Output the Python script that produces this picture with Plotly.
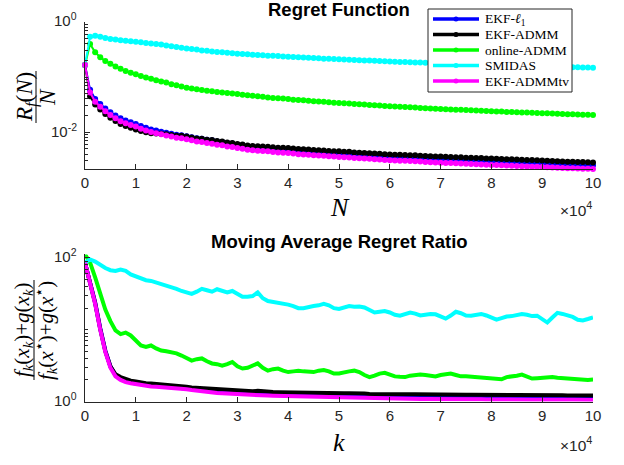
import plotly.graph_objects as go
import math

# ---------------- data ----------------
N = list(range(0, 100001, 1000))          # iteration index (0 ... 1e5)
K = list(range(0, 100001, 1000))

method_names = ["EKF-<i>ℓ</i><sub>1</sub>", "EKF-ADMM", "online-ADMM", "SMIDAS", "EKF-ADMMtv"]
method_colors = ["#0000FF", "#000000", "#00FF00", "#00FFFF", "#FF00FF"]

# Regret function R_f(N)/N
regret_ekf_l1 = [
    0.166, 0.0589, 0.0398, 0.0324, 0.0269, 0.0229, 0.0200, 0.0178, 0.0162, 0.0151,
    0.0141, 0.0129, 0.0120, 0.0112, 0.0107, 0.0102, 0.00977, 0.00933, 0.00891, 0.00875,
    0.00841, 0.00805, 0.00771, 0.00755, 0.00723, 0.00708, 0.00678, 0.00664, 0.00635, 0.00622,
    0.00589, 0.00575, 0.00550, 0.00537, 0.00525, 0.00520, 0.00514, 0.00504, 0.00493, 0.00489,
    0.00481, 0.00471, 0.00461, 0.00456, 0.00451, 0.00442, 0.00437, 0.00432, 0.00422, 0.00417,
    0.00412, 0.00407, 0.00404, 0.00394, 0.00391, 0.00386, 0.00382, 0.00377, 0.00372, 0.00366,
    0.00361, 0.00358, 0.00355, 0.00352, 0.00348, 0.00345, 0.00341, 0.00337, 0.00333, 0.00330,
    0.00327, 0.00324, 0.00321, 0.00318, 0.00316, 0.00313, 0.00310, 0.00307, 0.00304, 0.00301,
    0.00299, 0.00296, 0.00293, 0.00290, 0.00288, 0.00285, 0.00282, 0.00280, 0.00277, 0.00275,
    0.00272, 0.00270, 0.00267, 0.00265, 0.00262, 0.00260, 0.00258, 0.00256, 0.00255, 0.00253,
    0.00251]
regret_ekf_admm = [
    0.166, 0.0447, 0.0316, 0.0257, 0.0214, 0.0182, 0.0159, 0.0141, 0.0129, 0.0120,
    0.0112, 0.0105, 0.00998, 0.00955, 0.00944, 0.00933, 0.00912, 0.00887, 0.00861, 0.00855,
    0.00832, 0.00800, 0.00769, 0.00757, 0.00728, 0.00716, 0.00687, 0.00675, 0.00647, 0.00635,
    0.00610, 0.00598, 0.00573, 0.00562, 0.00551, 0.00547, 0.00542, 0.00532, 0.00521, 0.00518,
    0.00513, 0.00502, 0.00492, 0.00488, 0.00483, 0.00473, 0.00469, 0.00465, 0.00455, 0.00451,
    0.00447, 0.00442, 0.00438, 0.00428, 0.00424, 0.00419, 0.00414, 0.00408, 0.00404, 0.00398,
    0.00394, 0.00390, 0.00387, 0.00384, 0.00381, 0.00378, 0.00374, 0.00370, 0.00366, 0.00362,
    0.00359, 0.00356, 0.00353, 0.00350, 0.00348, 0.00344, 0.00342, 0.00339, 0.00337, 0.00333,
    0.00331, 0.00328, 0.00326, 0.00323, 0.00320, 0.00318, 0.00315, 0.00312, 0.00310, 0.00307,
    0.00304, 0.00301, 0.00299, 0.00296, 0.00294, 0.00291, 0.00290, 0.00288, 0.00286, 0.00284,
    0.00282]
regret_online_admm = [
    0.166, 0.398, 0.282, 0.229, 0.195, 0.174, 0.155, 0.141, 0.129, 0.120,
    0.112, 0.105, 0.0977, 0.0933, 0.0871, 0.0832, 0.0794, 0.0741, 0.0708, 0.0676,
    0.0638, 0.0617, 0.0603, 0.0582, 0.0562, 0.0550, 0.0537, 0.0525, 0.0513, 0.0501,
    0.0490, 0.0479, 0.0468, 0.0457, 0.0447, 0.0437, 0.0427, 0.0417, 0.0412, 0.0407,
    0.0398, 0.0389, 0.0385, 0.0380, 0.0372, 0.0363, 0.0359, 0.0355, 0.0347, 0.0343,
    0.0339, 0.0334, 0.0330, 0.0325, 0.0321, 0.0316, 0.0312, 0.0308, 0.0303, 0.0299,
    0.0295, 0.0292, 0.0288, 0.0285, 0.0282, 0.0279, 0.0275, 0.0272, 0.0269, 0.0266,
    0.0263, 0.0261, 0.0258, 0.0256, 0.0254, 0.0251, 0.0249, 0.0247, 0.0244, 0.0242,
    0.0240, 0.0238, 0.0236, 0.0233, 0.0231, 0.0229, 0.0228, 0.0226, 0.0224, 0.0223,
    0.0221, 0.0219, 0.0218, 0.0216, 0.0214, 0.0212, 0.0211, 0.0209, 0.0207, 0.0206,
    0.0204]
regret_smidas = [
    0.166, 0.537, 0.562, 0.537, 0.513, 0.490, 0.479, 0.468, 0.457, 0.447,
    0.437, 0.427, 0.417, 0.407, 0.398, 0.389, 0.376, 0.363, 0.351, 0.339,
    0.331, 0.324, 0.316, 0.305, 0.299, 0.292, 0.285, 0.281, 0.275, 0.271,
    0.266, 0.263, 0.259, 0.255, 0.251, 0.248, 0.245, 0.243, 0.240, 0.237,
    0.234, 0.232, 0.229, 0.226, 0.224, 0.221, 0.219, 0.216, 0.214, 0.212,
    0.210, 0.208, 0.206, 0.204, 0.202, 0.200, 0.199, 0.197, 0.195, 0.193,
    0.191, 0.190, 0.188, 0.187, 0.186, 0.184, 0.183, 0.182, 0.180, 0.179,
    0.178, 0.177, 0.175, 0.174, 0.173, 0.172, 0.171, 0.169, 0.168, 0.167,
    0.166, 0.165, 0.164, 0.163, 0.161, 0.160, 0.159, 0.158, 0.157, 0.156,
    0.155, 0.154, 0.153, 0.153, 0.152, 0.151, 0.151, 0.150, 0.149, 0.149,
    0.148]
regret_ekf_admmtv = [
    0.166, 0.0525, 0.0355, 0.0288, 0.0240, 0.0204, 0.0178, 0.0158, 0.0145, 0.0135,
    0.0126, 0.0115, 0.0107, 0.0100, 0.00955, 0.00912, 0.00871, 0.00832, 0.00794, 0.00776,
    0.00741, 0.00708, 0.00676, 0.00661, 0.00631, 0.00617, 0.00589, 0.00575, 0.00550, 0.00537,
    0.00513, 0.00501, 0.00479, 0.00468, 0.00457, 0.00452, 0.00447, 0.00437, 0.00427, 0.00422,
    0.00417, 0.00407, 0.00398, 0.00394, 0.00389, 0.00380, 0.00376, 0.00372, 0.00363, 0.00359,
    0.00355, 0.00351, 0.00347, 0.00339, 0.00335, 0.00331, 0.00327, 0.00322, 0.00318, 0.00313,
    0.00309, 0.00306, 0.00303, 0.00301, 0.00298, 0.00295, 0.00292, 0.00288, 0.00285, 0.00282,
    0.00279, 0.00276, 0.00274, 0.00271, 0.00269, 0.00266, 0.00264, 0.00261, 0.00259, 0.00256,
    0.00254, 0.00252, 0.00249, 0.00247, 0.00245, 0.00243, 0.00240, 0.00238, 0.00236, 0.00234,
    0.00232, 0.00230, 0.00228, 0.00225, 0.00223, 0.00221, 0.00220, 0.00218, 0.00217, 0.00215,
    0.00214]

# Moving average regret ratio
ratio_ekf_l1 = [
    86.1, 47.9, 24.0, 10.5, 5.13, 3.09, 2.32, 2.04, 1.905, 1.84,
    1.778, 1.738, 1.690, 1.667, 1.652, 1.633, 1.614, 1.596, 1.578, 1.560,
    1.528, 1.496, 1.466, 1.435, 1.406, 1.390, 1.377, 1.361, 1.349, 1.334,
    1.318, 1.312, 1.303, 1.294, 1.288, 1.276, 1.265, 1.259, 1.253, 1.245,
    1.236, 1.230, 1.225, 1.219, 1.213, 1.202, 1.197, 1.191, 1.189, 1.186,
    1.183, 1.180, 1.175, 1.169, 1.164, 1.159, 1.156, 1.153, 1.153, 1.156,
    1.159, 1.156, 1.151, 1.148, 1.143, 1.138, 1.135, 1.135, 1.138, 1.140,
    1.138, 1.132, 1.127, 1.122, 1.119, 1.122, 1.125, 1.127, 1.125, 1.119,
    1.114, 1.112, 1.114, 1.119, 1.122, 1.119, 1.114, 1.109, 1.107, 1.109,
    1.114, 1.117, 1.114, 1.109, 1.107, 1.104, 1.107, 1.109, 1.107, 1.104,
    1.102]
ratio_ekf_admm = [
    86.1, 46.8, 23.4, 10.2, 5.01, 3.09, 2.40, 2.19, 2.04, 1.95,
    1.905, 1.84, 1.80, 1.778, 1.758, 1.738, 1.718, 1.698, 1.679, 1.641,
    1.603, 1.567, 1.549, 1.514, 1.496, 1.479, 1.462, 1.445, 1.429, 1.413,
    1.396, 1.380, 1.374, 1.387, 1.413, 1.380, 1.365, 1.355, 1.349, 1.343,
    1.334, 1.324, 1.318, 1.312, 1.309, 1.303, 1.306, 1.312, 1.306, 1.297,
    1.294, 1.300, 1.306, 1.312, 1.303, 1.288, 1.274, 1.268, 1.271, 1.276,
    1.271, 1.262, 1.259, 1.256, 1.259, 1.262, 1.256, 1.250, 1.253, 1.256,
    1.250, 1.245, 1.247, 1.250, 1.245, 1.239, 1.242, 1.245, 1.239, 1.233,
    1.230, 1.227, 1.230, 1.236, 1.233, 1.230, 1.233, 1.227, 1.222, 1.225,
    1.230, 1.227, 1.225, 1.222, 1.219, 1.216, 1.219, 1.222, 1.219, 1.216,
    1.213]
ratio_online_admm = [
    112.2, 86.1, 53.7, 31.6, 19.1, 13.2, 9.77, 8.71, 9.12, 8.32,
    6.92, 6.03, 5.75, 6.03, 5.50, 5.13, 5.01, 4.90, 4.68, 4.37,
    3.98, 3.72, 3.89, 3.98, 3.63, 3.39, 3.31, 3.16, 3.31, 3.55,
    3.09, 2.88, 2.95, 3.16, 3.39, 2.95, 2.69, 2.82, 2.88, 2.69,
    2.57, 2.63, 2.69, 2.63, 2.57, 2.57, 2.69, 2.75, 2.63, 2.45,
    2.45, 2.57, 2.63, 2.69, 2.57, 2.34, 2.19, 2.29, 2.45, 2.51,
    2.34, 2.24, 2.21, 2.19, 2.29, 2.34, 2.37, 2.34, 2.29, 2.24,
    2.34, 2.43, 2.45, 2.34, 2.24, 2.24, 2.21, 2.19, 2.16, 2.14,
    2.09, 2.02, 2.04, 2.19, 2.21, 2.29, 2.37, 2.24, 2.09, 2.11,
    2.14, 2.16, 2.19, 2.14, 2.11, 2.09, 2.04, 2.00, 1.97, 2.00,
    2.02]
ratio_smidas = [
    86.1, 95.5, 89.1, 79.4, 72.4, 67.6, 66.1, 69.2, 66.1, 58.9,
    55.0, 51.3, 49.0, 47.9, 45.7, 42.7, 40.7, 38.9, 37.2, 34.7,
    33.1, 31.6, 33.9, 37.2, 35.5, 33.9, 36.7, 34.7, 33.1, 34.7,
    31.6, 28.8, 28.8, 29.5, 33.1, 27.5, 25.1, 24.5, 23.4, 22.9,
    22.4, 21.4, 20.0, 20.0, 20.9, 21.4, 21.9, 22.9, 21.9, 20.0,
    19.5, 20.4, 21.4, 20.9, 21.1, 20.4, 18.6, 17.4, 17.8, 18.2,
    17.4, 16.2, 15.7, 16.6, 17.4, 16.8, 15.8, 16.2, 16.6, 16.4,
    15.5, 14.3, 15.8, 17.8, 17.0, 15.8, 15.7, 16.2, 16.6, 15.8,
    14.8, 13.8, 14.5, 15.3, 15.5, 15.8, 16.6, 16.2, 15.5, 15.7,
    13.8, 12.6, 14.8, 17.2, 16.6, 15.7, 15.1, 13.8, 13.5, 14.1,
    14.8]
ratio_ekf_admmtv = [
    86.1, 45.7, 22.9, 10.0, 4.90, 2.95, 2.24, 2.00, 1.86, 1.80,
    1.74, 1.70, 1.64, 1.62, 1.60, 1.585, 1.567, 1.549, 1.531, 1.514,
    1.479, 1.445, 1.413, 1.380, 1.349, 1.334, 1.318, 1.303, 1.288, 1.274,
    1.259, 1.253, 1.245, 1.236, 1.230, 1.219, 1.208, 1.202, 1.197, 1.189,
    1.180, 1.175, 1.169, 1.164, 1.159, 1.148, 1.143, 1.138, 1.135, 1.132,
    1.130, 1.127, 1.122, 1.117, 1.112, 1.107, 1.104, 1.102, 1.102, 1.104,
    1.107, 1.104, 1.099, 1.096, 1.091, 1.086, 1.084, 1.084, 1.086, 1.089,
    1.086, 1.081, 1.076, 1.072, 1.069, 1.072, 1.074, 1.076, 1.074, 1.069,
    1.064, 1.062, 1.064, 1.069, 1.072, 1.069, 1.064, 1.059, 1.057, 1.059,
    1.064, 1.067, 1.064, 1.059, 1.057, 1.054, 1.057, 1.059, 1.057, 1.054,
    1.052]

x_tick_vals = [0, 10000, 20000, 30000, 40000, 50000, 60000, 70000, 80000, 90000, 100000]
x_tick_text = ["0", "1", "2", "3", "4", "5", "6", "7", "8", "9", "10"]
top_y_tick_vals = [0.01, 1]
top_y_tick_text = ["10<sup>-2</sup>", "10<sup>0</sup>"]
bot_y_tick_vals = [1, 100]
bot_y_tick_text = ["10<sup>0</sup>", "10<sup>2</sup>"]

# ---------------- figure ----------------
W, H = 624, 465
def px(x):
    return x / W
def py(y):
    return 1 - y / H

SANS = "Liberation Sans, Arial, Helvetica, sans-serif"
SERIF = "Liberation Serif, Times New Roman, serif"
AX = "#262626"

fig = go.Figure()

top_series = [regret_ekf_l1, regret_ekf_admm, regret_online_admm, regret_smidas, regret_ekf_admmtv]
bot_series = [ratio_ekf_l1, ratio_ekf_admm, ratio_online_admm, ratio_smidas, ratio_ekf_admmtv]

for name, vals, col in zip(method_names, top_series, method_colors):
    fig.add_trace(go.Scatter(x=N, y=vals, mode="lines+markers", name=name,
                             line=dict(color=col, width=2),
                             marker=dict(size=6, color=col),
                             cliponaxis=False, showlegend=False,
                             xaxis="x", yaxis="y"))
for name, vals, col in zip(method_names, bot_series, method_colors):
    fig.add_trace(go.Scatter(x=K, y=vals, mode="lines", name=name,
                             line=dict(color=col, width=4),
                             showlegend=False, xaxis="x2", yaxis="y2"))

def minor_vals(lo_exp, hi_exp):
    out = []
    for e in range(lo_exp, hi_exp):
        for m in range(1, 10):
            out.append(m * 10 ** e)
    return out

xdom = [px(85), px(593)]
common_x = dict(range=[0, 100000], tickmode="array", tickvals=x_tick_vals, ticktext=x_tick_text,
                ticks="inside", ticklen=5, tickwidth=1, tickcolor=AX,
                showline=True, linecolor=AX, linewidth=1, mirror=False,
                showgrid=False, zeroline=False, automargin=False,
                tickfont=dict(family=SANS, size=15, color=AX))
common_y = dict(type="log", ticks="inside", ticklen=5, tickwidth=1, tickcolor=AX,
                showline=True, linecolor=AX, linewidth=1, mirror=False,
                showgrid=False, zeroline=False, tickmode="array", automargin=False,
                showticklabels=False)

TOP_Y = (-2.67, 0.0, 169, 22)      # log range low/high, pixel bottom/top
BOT_Y = (0.0, 2.05, 401.5, 254.4)

fig.update_layout(
    width=W, height=H, margin=dict(l=0, r=0, t=0, b=0, autoexpand=False),
    paper_bgcolor="white", plot_bgcolor="white", showlegend=False,
    xaxis=dict(domain=xdom, anchor="y", **common_x),
    yaxis=dict(domain=[py(TOP_Y[2]), py(TOP_Y[3])], anchor="x", range=[TOP_Y[0], TOP_Y[1]],
               tickvals=top_y_tick_vals,
               minor=dict(tickmode="array", tickvals=minor_vals(-3, 0), ticks="inside",
                          ticklen=3, tickcolor=AX, showgrid=False),
               **common_y),
    xaxis2=dict(domain=xdom, anchor="y2", **common_x),
    yaxis2=dict(domain=[py(BOT_Y[2]), py(BOT_Y[3])], anchor="x2", range=[BOT_Y[0], BOT_Y[1]],
                tickvals=bot_y_tick_vals,
                minor=dict(tickmode="array", tickvals=minor_vals(0, 3), ticks="inside",
                           ticklen=3, tickcolor=AX, showgrid=False),
                **common_y),
)

ann = []
# y tick labels placed against the axes (same values as the tick positions)
def tick_label(val, text, spec):
    lo, hi, pb, pt = spec
    frac = (math.log10(val) - lo) / (hi - lo)
    ypix = pb - frac * (pb - pt)
    return dict(text=text, x=px(79), y=py(ypix - 2), xanchor="right",
                font=dict(family=SANS, size=15, color=AX))
for v, t in zip(top_y_tick_vals, top_y_tick_text):
    ann.append(tick_label(v, t, TOP_Y))
for v, t in zip(bot_y_tick_vals, bot_y_tick_text):
    ann.append(tick_label(v, t, BOT_Y))

# titles
ann.append(dict(text="<b>Regret Function</b>", x=px(339), y=py(10), font=dict(family=SANS, size=18.5, color="black")))
ann.append(dict(text="<b>Moving Average Regret Ratio</b>", x=px(339), y=py(242), font=dict(family=SANS, size=18.5, color="black")))
# x axis labels
ann.append(dict(text="<i>N</i>", x=px(340), y=py(207), font=dict(family=SERIF, size=26, color="black")))
ann.append(dict(text="<i>k</i>", x=px(339), y=py(442), font=dict(family=SERIF, size=26, color="black")))
# exponent labels
ann.append(dict(text="×10<sup>4</sup>", x=px(594), y=py(209), xanchor="right", font=dict(family=SANS, size=15.5, color=AX)))
ann.append(dict(text="×10<sup>4</sup>", x=px(594), y=py(444), xanchor="right", font=dict(family=SANS, size=15.5, color=AX)))
# y axis fraction labels (rotated)
ann.append(dict(text="<i>R<sub>f</sub></i>(<i>N</i>)", x=px(26), y=py(97), textangle=-90,
                font=dict(family=SERIF, size=23, color="black")))
ann.append(dict(text="<i>N</i>", x=px(47), y=py(97), textangle=-90,
                font=dict(family=SERIF, size=23, color="black")))
ann.append(dict(text="<i>f<sub>k</sub></i>(<i>x<sub>k</sub></i>)+<i>g</i>(<i>x<sub>k</sub></i>)", x=px(23), y=py(330), textangle=-90,
                font=dict(family=SERIF, size=21, color="black")))
ann.append(dict(text="<i>f<sub>k</sub></i>(<i>x</i><sup>⋆</sup>)+<i>g</i>(<i>x</i><sup>⋆</sup>)", x=px(45), y=py(330), textangle=-90,
                font=dict(family=SERIF, size=21, color="black")))

shapes = []
shapes.append(dict(type="line", xref="paper", yref="paper", x0=px(36), x1=px(36), y0=py(71), y1=py(123),
                   line=dict(color="black", width=1)))
shapes.append(dict(type="line", xref="paper", yref="paper", x0=px(34), x1=px(34), y0=py(280), y1=py(380),
                   line=dict(color="black", width=1)))

# legend (drawn manually to match the reference box)
shapes.append(dict(type="rect", xref="paper", yref="paper", x0=px(428), x1=px(572), y0=py(92), y1=py(9),
                   fillcolor="white", line=dict(color=AX, width=1), layer="above"))
legend_rows = [19, 34.5, 50, 65.5, 81]
for name, col, yy in zip(method_names, method_colors, legend_rows):
    shapes.append(dict(type="line", xref="paper", yref="paper", x0=px(433), x1=px(479), y0=py(yy), y1=py(yy),
                       line=dict(color=col, width=3.5), layer="above"))
    shapes.append(dict(type="circle", xref="paper", yref="paper", xsizemode="pixel", ysizemode="pixel",
                       xanchor=px(456), yanchor=py(yy), x0=-2.5, x1=2.5, y0=-2.5, y1=2.5,
                       fillcolor=col, line=dict(color=col, width=0), layer="above"))
    ann.append(dict(text=name, x=px(483), y=py(yy), xanchor="left",
                    font=dict(family=SERIF, size=13.5, color="black")))

for a in ann:
    a.setdefault("xref", "paper")
    a.setdefault("yref", "paper")
    a.setdefault("showarrow", False)
    a.setdefault("xanchor", "center")
    a.setdefault("yanchor", "middle")

fig.update_layout(annotations=ann, shapes=shapes)
# remove the default 8px page margin so the figure sits at the window's origin
fig.write_html("out.html", config={"displayModeBar": False},
               post_script="document.body.style.margin='0px';")
